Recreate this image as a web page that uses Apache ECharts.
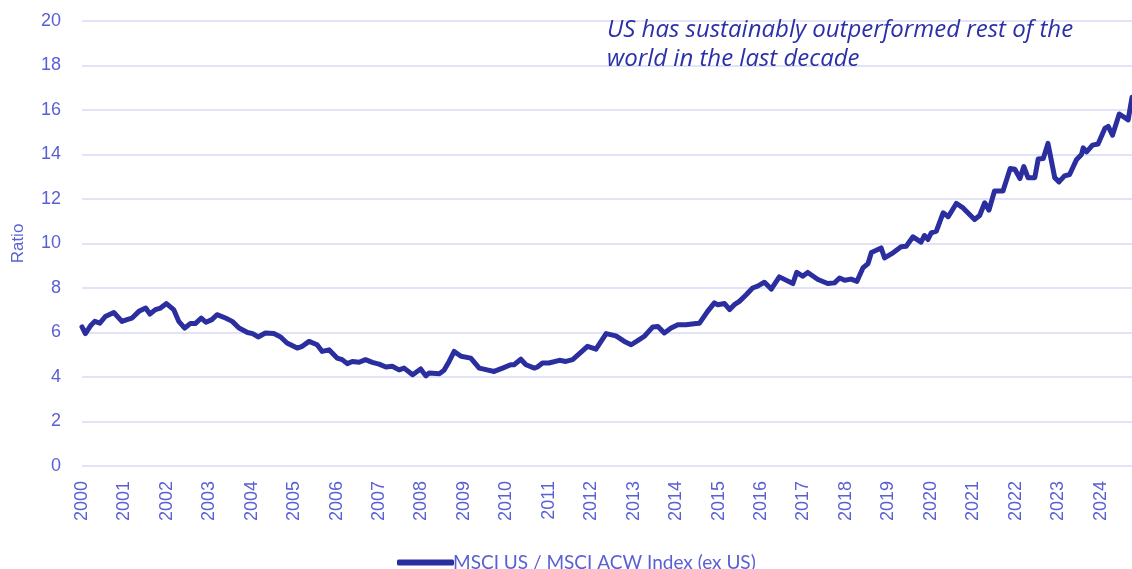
<!DOCTYPE html>
<html>
<head>
    <meta charset="utf-8">
    <title>ECharts</title>
    <script src="https://cdn.jsdelivr.net/npm/echarts@6/dist/echarts.min.js"></script>
    <style>
        html, body { margin: 0; padding: 0; background: #fff; }
    </style>
</head>
<body>
    <div id="chart" style="width: 1132px;height:569px;"></div>
    <script type="text/javascript">
        // date as decimal year, ratio
        var years = [
            2000.0, 2000.08, 2000.2, 2000.3, 2000.42, 2000.55, 2000.75, 2000.94, 2001.06, 2001.18,
            2001.34, 2001.5, 2001.6, 2001.73, 2001.85, 2001.99, 2002.16, 2002.28, 2002.42, 2002.55,
            2002.67, 2002.81, 2002.92, 2003.06, 2003.18, 2003.38, 2003.54, 2003.7, 2003.9, 2004.02,
            2004.15, 2004.32, 2004.52, 2004.68, 2004.83, 2005.07, 2005.19, 2005.35, 2005.54, 2005.66,
            2005.82, 2006.01, 2006.13, 2006.25, 2006.37, 2006.53, 2006.68, 2006.84, 2007.0, 2007.16,
            2007.31, 2007.47, 2007.59, 2007.79, 2007.98, 2008.1, 2008.18, 2008.42, 2008.53, 2008.65,
            2008.77, 2008.93, 2009.16, 2009.36, 2009.52, 2009.71, 2009.91, 2010.1, 2010.18, 2010.34,
            2010.46, 2010.66, 2010.73, 2010.85, 2011.0, 2011.25, 2011.4, 2011.56, 2011.72, 2011.91,
            2012.11, 2012.35, 2012.58, 2012.78, 2012.94, 2013.13, 2013.25, 2013.45, 2013.57, 2013.72,
            2013.88, 2014.04, 2014.23, 2014.47, 2014.55, 2014.74, 2014.9, 2014.98, 2015.14, 2015.26,
            2015.37, 2015.49, 2015.65, 2015.8, 2015.92, 2016.08, 2016.24, 2016.43, 2016.75, 2016.84,
            2016.98, 2017.1, 2017.34, 2017.57, 2017.73, 2017.85, 2017.97, 2018.12, 2018.26, 2018.4,
            2018.52, 2018.6, 2018.83, 2018.91, 2019.11, 2019.3, 2019.42, 2019.58, 2019.77, 2019.85,
            2019.93, 2020.01, 2020.13, 2020.29, 2020.41, 2020.6, 2020.76, 2021.03, 2021.15, 2021.27,
            2021.37, 2021.5, 2021.7, 2021.87, 2021.98, 2022.1, 2022.19, 2022.29, 2022.45, 2022.53,
            2022.65, 2022.76, 2022.92, 2023.02, 2023.15, 2023.27, 2023.43, 2023.55, 2023.59, 2023.67,
            2023.81, 2023.94, 2024.1, 2024.18, 2024.28, 2024.44, 2024.65, 2024.74
        ];
        var ratio = [
            6.25, 5.95, 6.3, 6.5, 6.42, 6.72, 6.9, 6.5, 6.58, 6.65,
            6.95, 7.1, 6.83, 7.03, 7.1, 7.3, 7.03, 6.5, 6.2, 6.4,
            6.4, 6.65, 6.46, 6.58, 6.8, 6.65, 6.5, 6.2, 6.0, 5.95,
            5.8, 5.98, 5.95, 5.8, 5.53, 5.3, 5.38, 5.6, 5.45, 5.15,
            5.22, 4.85, 4.78, 4.6, 4.7, 4.66, 4.78, 4.66, 4.58, 4.45,
            4.48, 4.32, 4.4, 4.1, 4.36, 4.05, 4.18, 4.15, 4.3, 4.7,
            5.15, 4.93, 4.85, 4.4, 4.33, 4.25, 4.4, 4.55, 4.55, 4.8,
            4.55, 4.4, 4.45, 4.63, 4.63, 4.75, 4.7, 4.78, 5.05, 5.38,
            5.25, 5.95, 5.85, 5.6, 5.45, 5.68, 5.83, 6.25, 6.27, 5.98,
            6.2, 6.35, 6.35, 6.4, 6.42, 6.95, 7.33, 7.25, 7.3, 7.03,
            7.25, 7.4, 7.7, 8.0, 8.08, 8.26, 7.95, 8.5, 8.2, 8.7,
            8.53, 8.7, 8.38, 8.2, 8.23, 8.45, 8.35, 8.4, 8.3, 8.9,
            9.1, 9.6, 9.8, 9.35, 9.58, 9.85, 9.88, 10.3, 10.06, 10.36,
            10.18, 10.48, 10.56, 11.38, 11.2, 11.8, 11.6, 11.08, 11.26, 11.83,
            11.5, 12.36, 12.36, 13.37, 13.34, 12.92, 13.46, 12.96, 12.96, 13.8,
            13.82, 14.5, 12.96, 12.77, 13.04, 13.1, 13.76, 14.0, 14.3, 14.12,
            14.42, 14.47, 15.17, 15.26, 14.87, 15.82, 15.56, 16.57
        ];
        var yTicks = [0, 2, 4, 6, 8, 10, 12, 14, 16, 18, 20];
        var seriesName = 'MSCI US / MSCI ACW Index (ex US)';
        var note = ['US has sustainably outperformed rest of the', 'world in the last decade'];

        var points = years.map(function (y, i) { return [y, ratio[i]]; });
        var labelColor = '#5a60d4';
        var lineColor = '#2b2e9e';

        // one text element per line of the note
        var noteGraphics = note.map(function (line, i) {
            return {
                type: 'text',
                left: 607,
                top: 15 + i * 29,
                z: 100,
                style: {
                    text: line,
                    fill: '#2b30a8',
                    fontFamily: 'Open Sans',
                    fontStyle: 'italic',
                    fontSize: 24,
                    lineHeight: 30
                }
            };
        });

        var chart = echarts.init(document.getElementById('chart'));
        var option = {
            animation: false,
            grid: { left: 82, right: 0, top: 21, bottom: 103 },
            xAxis: {
                type: 'value',
                min: 2000,
                max: 2024.74,
                interval: 1,
                axisLine: { show: false },
                axisTick: { show: false },
                splitLine: { show: false },
                axisLabel: {
                    rotate: 90,
                    margin: 15,
                    color: labelColor,
                    fontFamily: 'Liberation Sans',
                    fontSize: 18,
                    formatter: function (v) { return Number.isInteger(v) ? String(v) : ''; }
                }
            },
            yAxis: {
                type: 'value',
                min: yTicks[0],
                max: yTicks[yTicks.length - 1],
                interval: 2,
                name: 'Ratio',
                nameLocation: 'middle',
                nameGap: 55,
                nameTextStyle: { color: labelColor, fontFamily: 'Liberation Sans', fontSize: 17 },
                axisLine: { show: false },
                axisTick: { show: false },
                splitLine: { lineStyle: { color: '#d8daf4', width: 1.5 } },
                axisLabel: { margin: 21, color: labelColor, fontFamily: 'Liberation Sans', fontSize: 18 }
            },
            legend: {
                data: [seriesName],
                left: 392,
                top: 548,
                icon: 'roundRect',
                itemWidth: 57,
                itemHeight: 6,
                itemGap: 4,
                textStyle: { color: labelColor, fontFamily: 'Lato', fontSize: 19, padding: [0, 0, 0, -6] }
            },
            graphic: noteGraphics,
            series: [{
                name: seriesName,
                type: 'line',
                data: points,
                showSymbol: false,
                color: lineColor,
                lineStyle: { width: 5, color: lineColor, cap: 'round', join: 'round' }
            }]
        };
        chart.setOption(option);
    </script>
</body>
</html>
